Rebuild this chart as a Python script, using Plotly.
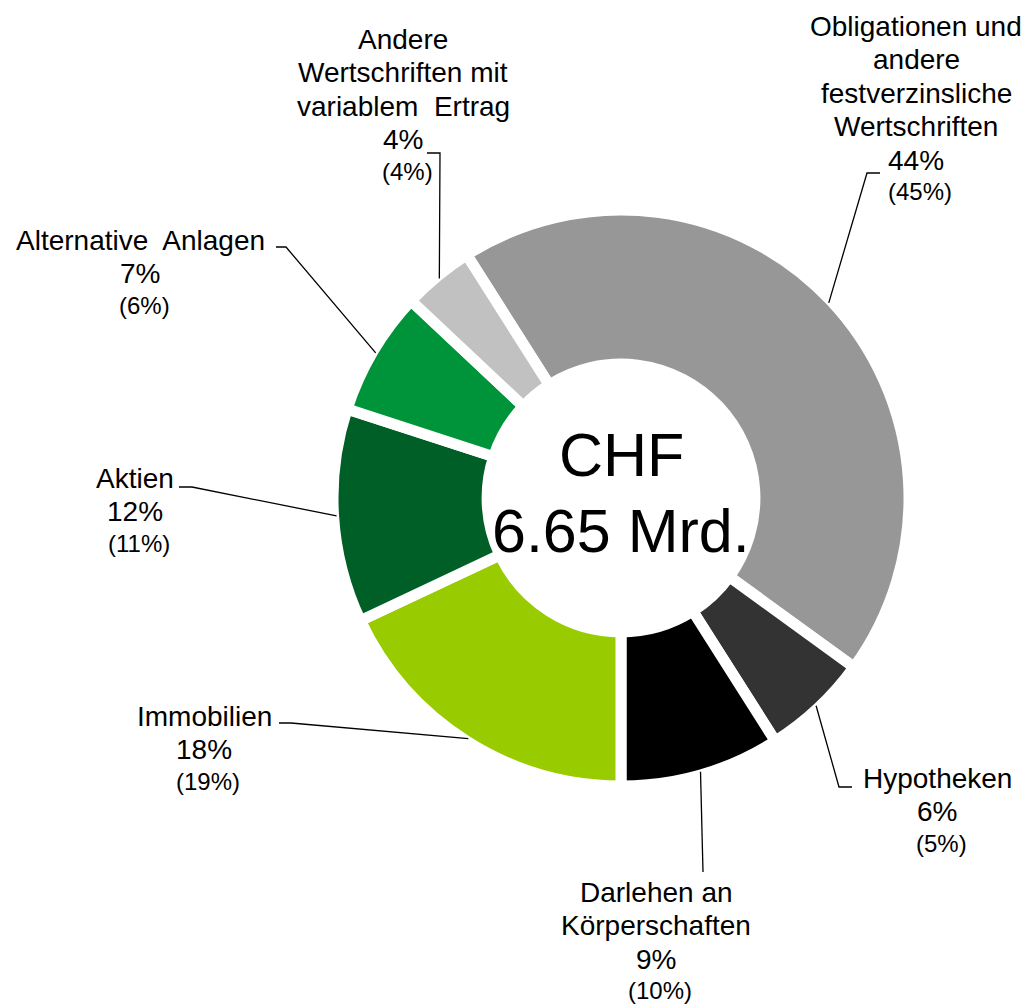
import math
import plotly.graph_objects as go

# ---------------- data ----------------
categories = [
    "Obligationen und andere festverzinsliche Wertschriften",
    "Hypotheken",
    "Darlehen an Körperschaften",
    "Immobilien",
    "Aktien",
    "Alternative Anlagen",
    "Andere Wertschriften mit variablem Ertrag",
]
shares = [44, 6, 9, 18, 12, 7, 4]          # current year, %
prev_shares = [45, 5, 10, 19, 11, 6, 4]    # previous year, %
label_lines = [
    ["Obligationen und", "andere", "festverzinsliche", "Wertschriften"],
    ["Hypotheken"],
    ["Darlehen an", "Körperschaften"],
    ["Immobilien"],
    ["Aktien"],
    ["Alternative  Anlagen"],
    ["Andere", "Wertschriften mit", "variablem  Ertrag"],
]
center_lines = ["CHF", "6.65 Mrd."]

# ---------------- styles / layout ----------------
colors = ["#979797", "#333333", "#000000", "#99CC00", "#005F27", "#00943A", "#C1C1C1"]
PAGE_W, PAGE_H = 1032, 1005
OFF = 8                     # default body margin of the html page
W, H = PAGE_W - OFF, PAGE_H - OFF
CX, CY = 621, 498          # donut centre (page px)
R = 288                    # plotly radius (px)
HOLE = 0.465
GAP = 11
FONT = "Liberation Sans, Arial, sans-serif"
MAIN_SIZE, PAREN_SIZE, CENTER_SIZE = 28, 24, 61
LINE_STEP, PAREN_STEP = 33.5, 30

# label block anchors: (centre x, first baseline) in page px
label_pos = [(916, 36), (937, 788), (656, 902), (204, 726), (135, 488), (140, 250), (403, 49)]
# leader line points after the start point on the slice (page px)
leader_pts = [
    [(867, 173), (880, 173)],
    [(839, 787), (852, 787)],
    [(703, 872)],
    [(291, 723), (279, 723)],
    [(192, 487), (179, 487)],
    [(286, 247), (276, 247)],
    [(440, 153), (427, 153)],
]
LEADER_R = 285
center_baselines = [476, 552]


def px(x, y):
    return (x - OFF) / W, 1 - (y - OFF) / H


total = sum(shares)
rotation = 180 - 360 * sum(shares[:3]) / total

x0, y1 = px(CX - R, CY - R)
x1, y0 = px(CX + R, CY + R)

fig = go.Figure(
    go.Pie(
        labels=categories,
        values=shares,
        sort=False,
        direction="clockwise",
        rotation=rotation,
        hole=HOLE,
        marker=dict(colors=colors, line=dict(color="white", width=GAP)),
        textinfo="none",
        hoverinfo="skip",
        domain=dict(x=[x0, x1], y=[y0, y1]),
    )
)

annotations = []
shapes = []


def add_text(text, cx, baseline, size):
    x, y = px(cx, baseline - 0.35 * size)
    annotations.append(
        dict(
            x=x, y=y, xref="paper", yref="paper", text=text, showarrow=False,
            xanchor="center", yanchor="middle",
            font=dict(family=FONT, size=size, color="#000000"),
        )
    )


cum = 0
for i, v in enumerate(shares):
    mid = rotation + 360 * (cum + v / 2) / total
    cum += v
    a = math.radians(mid)
    sx, sy = CX + LEADER_R * math.sin(a), CY - LEADER_R * math.cos(a)
    pts = [(sx, sy)] + leader_pts[i]
    path = "M " + " L ".join("%f,%f" % px(x, y) for x, y in pts)
    shapes.append(dict(type="path", path=path, xref="paper", yref="paper",
                       line=dict(color="#000000", width=1.3)))

    cx, b = label_pos[i]
    lines = label_lines[i] + ["%d%%" % v]
    for j, t in enumerate(lines):
        add_text(t, cx, b + j * LINE_STEP, MAIN_SIZE)
    add_text("(%d%%)" % prev_shares[i], cx + 4, b + (len(lines) - 1) * LINE_STEP + PAREN_STEP, PAREN_SIZE)

for t, b in zip(center_lines, center_baselines):
    add_text(t, CX, b, CENTER_SIZE)

fig.update_layout(
    width=W, height=H,
    margin=dict(l=0, r=0, t=0, b=0),
    paper_bgcolor="white", plot_bgcolor="white",
    showlegend=False,
    annotations=annotations,
    shapes=shapes,
)

fig.write_html("out.html")
